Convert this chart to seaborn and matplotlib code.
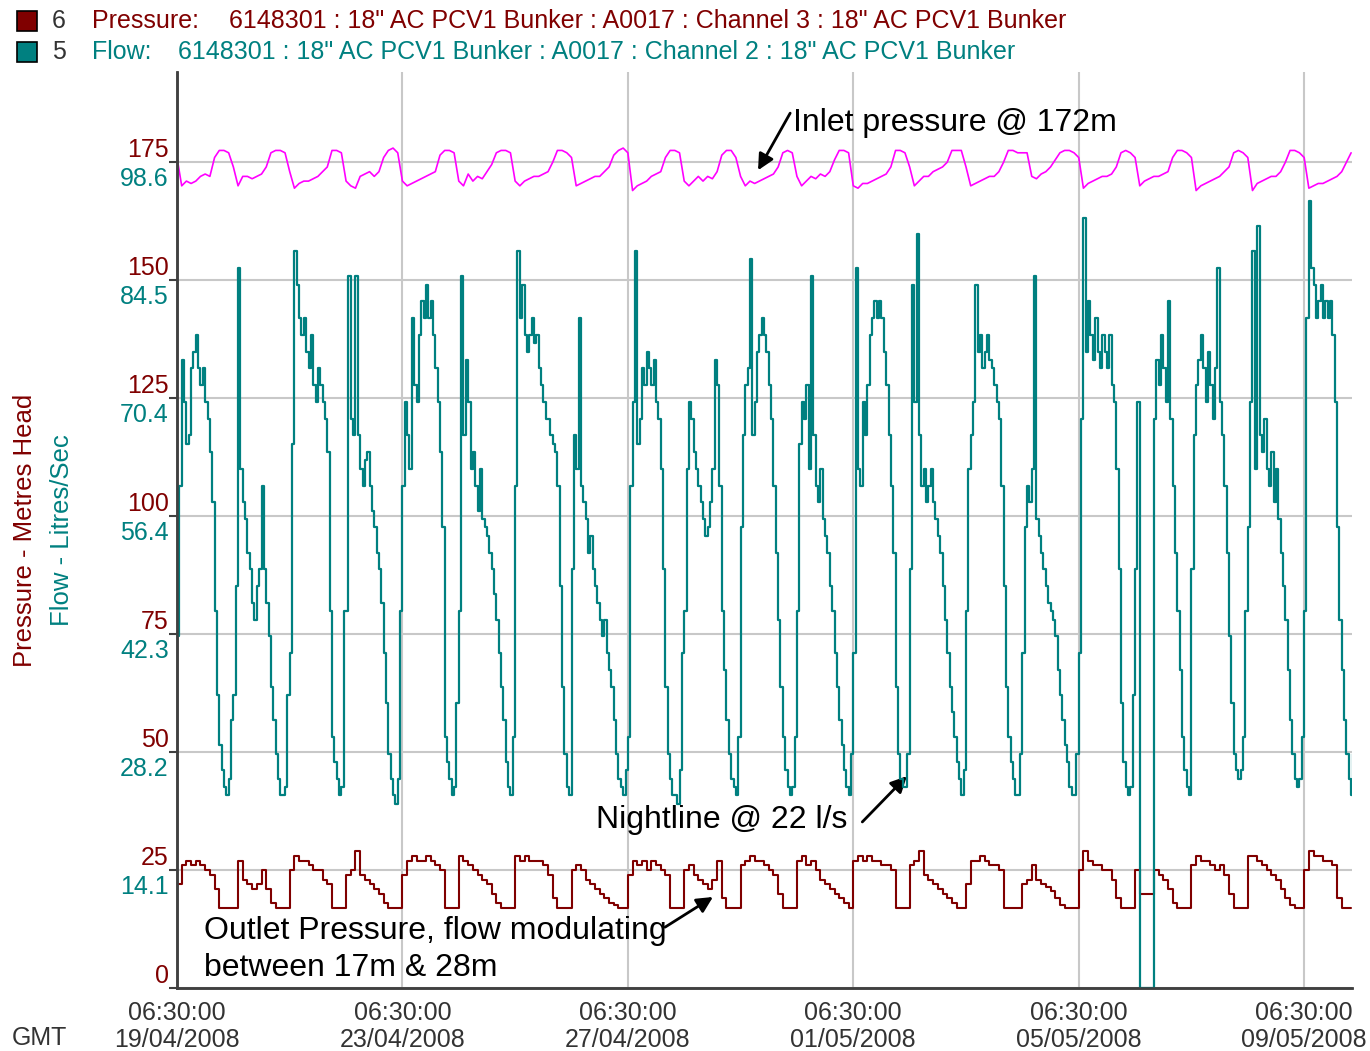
import numpy as np
import pandas as pd
import matplotlib.pyplot as plt
from matplotlib.patches import Rectangle
import seaborn as sns

sns.set_style("white")
plt.rcParams["font.family"] = ["Liberation Sans", "DejaVu Sans"]

# logger start and end of the window shown
start = pd.Timestamp("2008-04-19 06:30")
end = start + pd.Timedelta(days=20.85)

# flow (l/s), hourly, one row per day starting 06:30
flow = [
    42, 60, 75, 70, 65, 66, 74, 76, 78, 74, 72, 74, 70, 68, 64, 58, 45, 35, 29, 26, 24, 23, 25, 32,
    35, 48, 86, 62, 58, 56, 52, 50, 46, 44, 48, 50, 60, 50, 46, 42, 36, 32, 28, 25, 23, 23, 24, 35,
    40, 65, 88, 84, 80, 78, 80, 76, 74, 78, 72, 70, 74, 72, 70, 68, 64, 45, 30, 27, 25, 23, 24, 45,
    45, 85, 68, 66, 85, 66, 62, 60, 63, 64, 60, 57, 55, 52, 50, 46, 40, 34, 28, 25, 23, 22, 25, 45,
    60, 70, 66, 62, 80, 72, 70, 78, 82, 80, 84, 80, 82, 78, 74, 70, 64, 55, 30, 27, 25, 23, 24, 34,
    45, 85, 66, 75, 70, 62, 64, 60, 57, 62, 56, 55, 54, 52, 50, 47, 44, 40, 36, 32, 27, 24, 23, 30,
    60, 88, 80, 84, 78, 76, 78, 80, 77, 78, 74, 72, 70, 68, 68, 66, 65, 64, 60, 48, 36, 28, 24, 23,
    50, 66, 62, 80, 60, 58, 56, 52, 54, 50, 48, 46, 44, 42, 44, 40, 38, 36, 32, 28, 25, 24, 23, 26,
    30, 60, 70, 88, 65, 68, 74, 72, 76, 74, 72, 75, 70, 68, 62, 50, 36, 28, 25, 23, 23, 22, 26, 40,
    45, 62, 70, 68, 64, 62, 60, 58, 56, 54, 55, 58, 62, 75, 72, 60, 45, 38, 32, 28, 25, 24, 23, 30,
    55, 66, 72, 74, 87, 66, 70, 76, 78, 80, 78, 76, 72, 68, 60, 52, 44, 36, 30, 26, 24, 23, 24, 30,
    45, 65, 70, 68, 72, 62, 85, 66, 60, 58, 62, 56, 54, 52, 48, 45, 40, 36, 32, 29, 26, 24, 23, 28,
    40, 86, 62, 60, 70, 66, 72, 78, 80, 82, 80, 82, 80, 76, 72, 66, 60, 52, 36, 28, 25, 24, 24, 28,
    50, 84, 70, 90, 66, 60, 62, 58, 60, 62, 58, 56, 54, 52, 48, 44, 40, 36, 33, 30, 27, 25, 23, 26,
    45, 62, 66, 70, 84, 76, 78, 74, 76, 78, 75, 74, 72, 70, 68, 60, 48, 36, 30, 27, 25, 23, 23, 28,
    40, 55, 60, 58, 62, 85, 56, 54, 52, 50, 48, 46, 45, 44, 42, 38, 35, 32, 29, 27, 24, 23, 23, 28,
    40, 68, 92, 76, 82, 78, 75, 80, 76, 74, 78, 76, 74, 78, 72, 70, 62, 50, 34, 27, 24, 23, 24, 35,
    50, 70, 0, 0, 0, 0, 0, 0, 68, 75, 72, 78, 74, 70, 82, 68, 60, 52, 45, 38, 30, 26, 24, 23,
    50, 66, 72, 75, 78, 74, 70, 76, 72, 68, 74, 86, 70, 66, 60, 52, 42, 34, 28, 26, 25, 26, 30, 45,
    55, 70, 88, 62, 91, 66, 64, 68, 62, 60, 64, 58, 62, 56, 52, 48, 44, 38, 32, 28, 25, 24, 25, 30,
    45, 80, 94, 86, 84, 80, 82, 84, 80, 82, 80, 82, 78, 70, 55, 44, 38, 32, 28, 25, 23, 28,
]

# outlet pressure (m), 2-hourly from 06:30
outlet_pressure = [
    22, 26, 27, 26, 27, 26, 25, 24, 21, 17, 17, 17,
    17, 27, 23, 22, 21, 22, 25, 21, 18, 17, 17, 17,
    25, 28, 27, 27, 26, 25, 25, 23, 22, 17, 17, 17,
    24, 25, 29, 24, 23, 22, 21, 20, 18, 17, 17, 17,
    24, 27, 28, 27, 27, 28, 27, 26, 25, 17, 17, 17,
    28, 27, 26, 25, 24, 23, 22, 20, 18, 17, 17, 17,
    28, 27, 28, 27, 27, 27, 26, 24, 19, 17, 17, 17,
    25, 26, 25, 23, 22, 21, 20, 19, 18, 17.5, 17, 17,
    24, 27, 26, 27, 25, 27, 26, 25, 24, 17, 17, 17,
    25, 26, 24, 23, 22, 21, 23, 27, 19, 17, 17, 17,
    26, 27, 28, 27, 27, 26, 25, 24, 20, 17, 17, 17,
    27, 28, 26, 27, 25, 23, 22, 21, 20, 19, 18, 17,
    27, 28, 27, 28, 27, 27, 26, 26, 25, 17, 17, 17,
    26, 27, 29, 24, 23, 22, 21, 20, 19, 18, 17, 17,
    22, 27, 27, 28, 27, 26, 26, 25, 17, 17, 17, 17,
    22, 23, 26, 23, 22, 21.5, 20.5, 19, 17.5, 17, 17, 17,
    25, 29, 27, 26, 26, 25, 25, 23, 19, 17, 17, 17,
    25, 20, 20, 20, 25, 24, 23, 21, 18, 17, 17, 17,
    26, 28, 27, 27, 26, 25, 26, 24, 20, 17, 17, 17,
    28, 28, 27, 26, 25, 24, 23, 21, 19, 17.5, 17, 17,
    25, 29, 28, 28, 27, 27, 26, 19, 17, 17, 17,
]

# inlet pressure (m), 2-hourly from 06:30
inlet_pressure = [
    176, 170, 171, 170.5, 171, 172, 172.5, 172, 176, 177.5, 177.5, 177,
    174, 170, 172, 172, 171.5, 172, 172.5, 174, 177, 177.5, 177.5, 177,
    173, 169.5, 170.5, 171, 171, 171.5, 172, 173, 174, 177.5, 177.5, 177,
    171, 170, 169.5, 172, 172.5, 173, 172, 173, 176, 177.5, 178, 177,
    171, 170, 170.5, 171, 171.5, 172, 172.5, 173, 176.5, 177.5, 177.5, 177,
    171, 170, 172.5, 171, 172, 171.5, 173, 174.5, 177, 177.5, 177.5, 177,
    171, 170, 171, 171.5, 172, 172, 172.5, 173, 175, 177.5, 177.5, 177,
    176, 170, 170.5, 171, 171.5, 172, 172, 173, 174, 176.5, 177.5, 178,
    177, 169, 170, 170.5, 171, 172, 172.5, 173, 176, 177.5, 177.5, 177,
    171, 170, 171, 172, 171, 172, 171.5, 173, 176.5, 177.5, 177.5, 176,
    172, 170, 171, 170.5, 171, 171.5, 172, 172.5, 174, 177, 177.5, 177,
    172, 170, 171, 172, 171.5, 172.5, 172, 173, 175.5, 177.5, 177.5, 177,
    170, 169.5, 170.5, 170.5, 171, 171.5, 172, 172.5, 174, 177.5, 177.5, 177,
    174, 170, 171, 172, 172, 173, 173.5, 174, 175, 177.5, 177.5, 177.5,
    174, 170, 170.5, 171, 171.5, 172, 172, 173, 175, 177.5, 177.5, 177,
    177, 177, 172, 171.5, 172.5, 173, 174, 175.5, 177, 177.5, 177.5, 177,
    176, 169.5, 170.5, 171, 171.5, 172, 172, 172.5, 174, 177, 177.5, 177,
    176, 170, 171, 171.5, 172, 172, 172.5, 173, 176, 177.5, 177.5, 177,
    176, 169, 170, 170.5, 171, 171.5, 172, 173, 174, 177, 177.5, 177,
    176, 169, 170.5, 171, 171.5, 172, 172, 173, 175, 177.5, 177.5, 177,
    176, 169.5, 170, 170.5, 170.5, 171, 171.5, 172, 173, 175, 177,
]

pressure_ticks = [0, 25, 50, 75, 100, 125, 150, 175]
flow_tick_labels = ["", "14.1", "28.2", "42.3", "56.4", "70.4", "84.5", "98.6"]

red = "#800000"
teal = "#008080"
magenta = "#ff00ff"
grey_text = "#333333"
fs = 18
fs_note = 23

flow_times = pd.date_range(start, periods=len(flow), freq="h")
outlet_times = pd.date_range(start, periods=len(outlet_pressure), freq="2h")
inlet_times = pd.date_range(start, periods=len(inlet_pressure), freq="2h")

p_top = 194.1
f_top = p_top * 98.6 / 175

fig = plt.figure(figsize=(13.7, 10.51), dpi=100)
ax = fig.add_axes([0.1292, 0.0599, 0.8577, 0.8715])
ax2 = ax.twinx()

sns.lineplot(x=outlet_times, y=outlet_pressure, ax=ax, color=red, lw=1.5,
             drawstyle="steps-post", estimator=None)
sns.lineplot(x=inlet_times, y=inlet_pressure, ax=ax, color=magenta, lw=1.2,
             estimator=None)
sns.lineplot(x=flow_times, y=flow, ax=ax2, color=teal, lw=1.6,
             drawstyle="steps-post", estimator=None)

ax.set_xlim(start, end)
ax.set_ylim(0, p_top)
ax2.set_ylim(0, f_top)

# x ticks: labelled every 4 days, unlabelled marks in between
major = pd.date_range(start, end, freq="4D")
minor = pd.date_range(start + pd.Timedelta(days=2), end, freq="4D")
ax.set_xticks(major)
ax.set_xticklabels([t.strftime("%H:%M:%S\n%d/%m/%Y") for t in major],
                   fontsize=fs, color=grey_text, linespacing=1.2)
ax.set_xticks(minor, minor=True)
ax.tick_params(axis="x", which="both", direction="out", length=7, width=1.5,
               color="#404040", pad=2)

ax.set_yticks(pressure_ticks)
ax.set_yticklabels([])
ax.tick_params(axis="y", direction="out", length=6, width=1.5, color="#404040")
for p, fl in zip(pressure_ticks, flow_tick_labels):
    ax.annotate(str(p), xy=(0, p), xycoords=("axes fraction", "data"),
                xytext=(-6, 3.5), textcoords="offset points", ha="right",
                va="baseline", color=red, fontsize=fs)
    if fl:
        ax.annotate(fl, xy=(0, p), xycoords=("axes fraction", "data"),
                    xytext=(-6, -3.5), textcoords="offset points", ha="right",
                    va="top", color=teal, fontsize=fs)

ax.grid(axis="y", color="#c8c8c8", lw=1.5)
ax.grid(axis="x", which="major", color="#c8c8c8", lw=1.5)
ax.set_axisbelow(True)
for a in (ax, ax2):
    a.set_xlabel("")
    a.set_ylabel("")
    for s in ("top", "right"):
        a.spines[s].set_visible(False)
    a.spines["left"].set_color("#404040")
    a.spines["bottom"].set_color("#404040")
    a.spines["left"].set_linewidth(1.8)
    a.spines["bottom"].set_linewidth(1.8)
ax2.set_yticks([])

# annotations
d = lambda days: start + pd.Timedelta(days=days)
arrow = dict(arrowstyle="-|>", color="black", lw=2, mutation_scale=24,
             shrinkA=0, shrinkB=0)
ax.text(d(10.93), 183.3, "Inlet pressure @ 172m", fontsize=fs_note, va="center",
        ha="left", color="black")
ax.annotate("", xy=(d(10.31), 173.3), xytext=(d(10.88), 185.4), arrowprops=arrow)
ax.text(d(7.44), 35.6, "Nightline @ 22 l/s", fontsize=fs_note, va="center",
        ha="left", color="black")
ax.annotate("", xy=(d(12.95), 44.9), xytext=(d(12.16), 35.2), arrowprops=arrow)
ax.text(d(0.48), 8.15, "Outlet Pressure, flow modulating\nbetween 17m & 28m",
        fontsize=fs_note, va="center", ha="left", color="black", linespacing=1.33)
ax.annotate("", xy=(d(9.51), 19.3), xytext=(d(8.66), 12.9), arrowprops=arrow)

# legend block
W, H = 1370, 1051
for row, (col, num, name, desc, xdesc) in enumerate([
        (red, "6", "Pressure:", "6148301 : 18\" AC PCV1 Bunker : A0017 : Channel 3 : 18\" AC PCV1 Bunker", 229),
        (teal, "5", "Flow:", "6148301 : 18\" AC PCV1 Bunker : A0017 : Channel 2 : 18\" AC PCV1 Bunker", 178)]):
    yc = 21 + 31 * row
    fig.patches.append(Rectangle((17 / W, 1 - (yc + 10) / H), 20 / W, 20 / H,
                                 transform=fig.transFigure, facecolor=col,
                                 edgecolor="black", lw=1.2))
    fig.text(52 / W, 1 - yc / H, num, fontsize=fs, color=grey_text, va="center")
    fig.text(92 / W, 1 - yc / H, name, fontsize=fs, color=col, va="center")
    fig.text(xdesc / W, 1 - yc / H, desc, fontsize=fs, color=col, va="center")

fig.text(25 / W, 1 - 530 / H, "Pressure - Metres Head", rotation=90, fontsize=18.5,
         color=red, ha="center", va="center")
fig.text(62 / W, 1 - 530 / H, "Flow - Litres/Sec", rotation=90, fontsize=18.5,
         color=teal, ha="center", va="center")
fig.text(12 / W, 1 - 1038 / H, "GMT", fontsize=fs, color=grey_text, va="center")

plt.savefig("out.png", dpi=100, facecolor="white")
